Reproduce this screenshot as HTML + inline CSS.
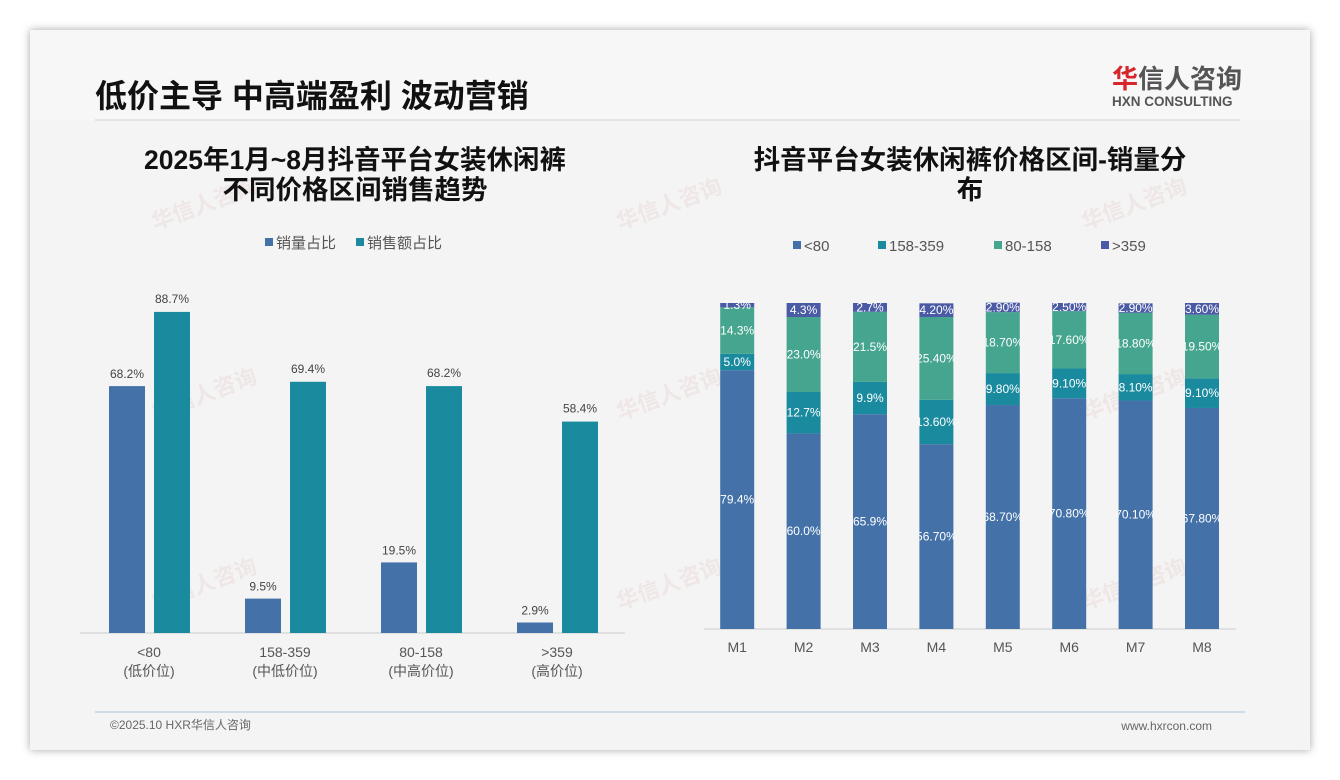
<!DOCTYPE html>
<html><head><meta charset="utf-8">
<style>
body{margin:0;width:1340px;height:780px;background:#fff;font-family:"Liberation Sans","Noto Sans CJK SC",sans-serif;overflow:hidden}
#card{position:absolute;left:30px;top:30px;width:1280px;height:720px;background:#f4f4f4;box-shadow:0 0 8px rgba(0,0,0,0.35)}
svg{position:absolute;left:0;top:0}
</style></head><body>
<div id="card"></div>
<svg width="1340" height="780">
<rect x="30" y="30" width="1280" height="90" fill="#f7f7f7"/>
<text x="95" y="107" font-size="32" font-weight="bold" fill="#111" font-family="Liberation Sans,Noto Sans CJK SC,sans-serif">低价主导 中高端盈利 波动营销</text>
<line x1="95" y1="120" x2="1240" y2="120" stroke="#ddd" stroke-width="1.5"/>
<g>
<text x="1112" y="88" font-size="26" font-weight="bold" fill="#d7262b" font-family="Noto Sans CJK SC,sans-serif">华</text>
<text x="1138" y="88" font-size="26" font-weight="bold" fill="#555" font-family="Noto Sans CJK SC,sans-serif">信人咨询</text>
<text x="1112" y="106" font-size="13.5" font-weight="bold" fill="#555">HXN CONSULTING</text>
</g>
<g fill="#e6cccc" opacity="0.35" font-size="22" font-weight="bold" font-family="Noto Sans CJK SC,sans-serif">
<text transform="translate(155,230) rotate(-20)">华信人咨询</text>
<text transform="translate(620,230) rotate(-20)">华信人咨询</text>
<text transform="translate(1085,230) rotate(-20)">华信人咨询</text>
<text transform="translate(155,420) rotate(-20)">华信人咨询</text>
<text transform="translate(620,420) rotate(-20)">华信人咨询</text>
<text transform="translate(1085,420) rotate(-20)">华信人咨询</text>
<text transform="translate(155,610) rotate(-20)">华信人咨询</text>
<text transform="translate(620,610) rotate(-20)">华信人咨询</text>
<text transform="translate(1085,610) rotate(-20)">华信人咨询</text>
</g>
<text x="355" y="169" text-anchor="middle" font-size="26.5" font-weight="bold" fill="#111"><tspan x="355">2025年1月~8月抖音平台女装休闲裤</tspan><tspan x="355" dy="30">不同价格区间销售趋势</tspan></text>
<text x="970" y="169" text-anchor="middle" font-size="26.5" font-weight="bold" fill="#111"><tspan x="970">抖音平台女装休闲裤价格区间-销量分</tspan><tspan x="970" dy="30">布</tspan></text>
<g id="left"></g>
<g id="right"></g>
<line x1="95" y1="712" x2="1245" y2="712" stroke="#a9c4e0" stroke-width="1"/>
<text x="110" y="729" font-size="12" fill="#666">©2025.10 HXR华信人咨询</text>
<text x="1212" y="730" text-anchor="end" font-size="12" fill="#666">www.hxrcon.com</text>
</svg>
<script>
const leftCats=["<80","158-359","80-158",">359"];
const leftSub=["(低价位)","(中低价位)","(中高价位)","(高价位)"];
const volShare=[68.2,9.5,19.5,2.9];
const amtShare=[88.7,69.4,68.2,58.4];
const months=["M1","M2","M3","M4","M5","M6","M7","M8"];
const sLow=[79.4,60.0,65.9,56.7,68.7,70.8,70.1,67.8];
const sMidLow=[5.0,12.7,9.9,13.6,9.8,9.1,8.1,9.1];
const sMidHigh=[14.3,23.0,21.5,25.4,18.7,17.6,18.8,19.5];
const sHigh=[1.3,4.3,2.7,4.2,2.9,2.5,2.9,3.6];
const lowLbl=["79.4%","60.0%","65.9%","56.70%","68.70%","70.80%","70.10%","67.80%"];
const midLowLbl=["5.0%","12.7%","9.9%","13.60%","9.80%","9.10%","8.10%","9.10%"];
const midHighLbl=["14.3%","23.0%","21.5%","25.40%","18.70%","17.60%","18.80%","19.50%"];
const highLbl=["1.3%","4.3%","2.7%","4.20%","2.90%","2.50%","2.90%","3.60%"];
const NS="http://www.w3.org/2000/svg";
function mk(p,t,a,txt){const e=document.createElementNS(NS,t);for(const k in a)e.setAttribute(k,a[k]);if(txt!==undefined)e.textContent=txt;p.appendChild(e);return e;}
const L=document.getElementById('left');
const lBase=633,lScale=3.62,lX0=81,lStep=136;
const yL=v=>lBase-v*lScale;
const cx=i=>lX0+lStep*(i+0.5);
let e=mk(L,'line',{x1:80,y1:lBase,x2:625,y2:lBase,stroke:'#ccc'});


leftCats.forEach((c,i)=>{
 const x=cx(i);
 let b=mk(L,'rect',{x:x-40,y:yL(volShare[i]),width:36,height:volShare[i]*lScale,fill:'#4472a8'});
 
 
 let t=mk(L,'text',{x:x-22,y:yL(volShare[i])-8,'text-anchor':'middle','font-size':12,fill:'#444'},volShare[i].toFixed(1)+'%');
 
 
 b=mk(L,'rect',{x:x+5,y:yL(amtShare[i]),width:36,height:amtShare[i]*lScale,fill:'#1a8a9f'});
 
 
 t=mk(L,'text',{x:x+23,y:yL(amtShare[i])-9,'text-anchor':'middle','font-size':12,fill:'#444'},amtShare[i].toFixed(1)+'%');
 
 
 t=mk(L,'text',{x:x,y:657,'text-anchor':'middle','font-size':14,fill:'#555'},c);
 
 
 t=mk(L,'text',{x:x,y:676,'text-anchor':'middle','font-size':14,fill:'#555'},leftSub[i]);
 
 
});
let lg=mk(L,'g',{});


mk(lg,'rect',{x:265,y:238,width:8,height:8,fill:'#4472a8'});
mk(lg,'text',{x:276,y:248,'font-size':15,fill:'#555'},'销量占比');
mk(lg,'rect',{x:356,y:238,width:8,height:8,fill:'#1a8a9f'});
mk(lg,'text',{x:367,y:248,'font-size':15,fill:'#555'},'销售额占比');
const R=document.getElementById('right');
const rBase=629,rScale=3.26,rX0=704,rStep=66.4,bw=34;
e=mk(R,'line',{x1:704,y1:rBase,x2:1236,y2:rBase,stroke:'#ccc'});


const series=[[sLow,lowLbl,'#4472a8','low'],[sMidLow,midLowLbl,'#1a8a9f','midlow'],[sMidHigh,midHighLbl,'#45a58f','midhigh'],[sHigh,highLbl,'#4a5aa5','high']];
const defs=mk(R,'defs',{});
months.forEach((m,i)=>{
 const x=rX0+rStep*(i+0.5);
 const cp=mk(defs,'clipPath',{id:'cp'+i});
 mk(cp,'rect',{x:x-bw/2,y:200,width:bw,height:440});
 let acc=0;
 series.forEach(s=>{
  const v=s[0][i];
  const y0=rBase-(acc+v)*rScale;
  let b=mk(R,'rect',{x:x-bw/2,y:y0,width:bw,height:v*rScale,fill:s[2]});
  
  
  let t=mk(R,'text',{x:x,y:y0+v*rScale/2+4,'text-anchor':'middle','font-size':12,fill:'#fff','clip-path':'url(#cp'+i+')'},s[1][i]);
  
  
  acc+=v;
 });
 let t=mk(R,'text',{x:x,y:652,'text-anchor':'middle','font-size':14,fill:'#555'},m);
 
 
});
lg=mk(R,'g',{});


const lgItems=[['<80','#4472a8',793],['158-359','#1a8a9f',878],['80-158','#45a58f',994],['>359','#4a5aa5',1101]];
lgItems.forEach(it=>{
 mk(lg,'rect',{x:it[2],y:241,width:8,height:8,fill:it[1]});
 mk(lg,'text',{x:it[2]+11,y:251,'font-size':15,fill:'#555'},it[0]);
});
</script>
</body></html>
